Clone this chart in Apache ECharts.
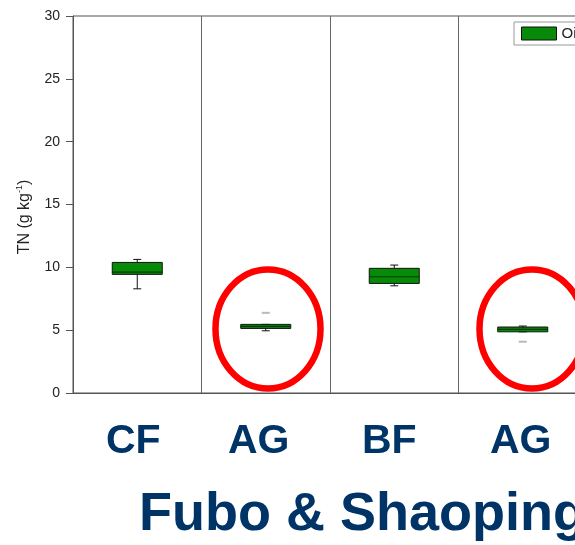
<!DOCTYPE html>
<html>
<head>
<meta charset="utf-8">
<script src="https://cdn.jsdelivr.net/npm/echarts@6/dist/echarts.min.js"></script>
<style>
  html, body { margin: 0; padding: 0; background: #fff; }
  #chart { width: 575px; height: 545px; }
</style>
</head>
<body>
<div id="chart"></div>
<script>
// Site / land-use groups along the x axis
const categories = ['CF', 'AG', 'BF', 'AG'];
// Box statistics per group: [min, Q1, median, Q3, max] of TN (g kg-1)
const tnBoxes = [
  [8.29, 9.44, 9.62, 10.39, 10.63],
  [4.95, 5.14, 5.30, 5.46, 5.46],
  [8.53, 8.72, 9.25, 9.92, 10.18],
  [4.87, 4.87, 5.06, 5.25, 5.33]
];
// Outlying observations: [group index, TN]
const tnOutliers = [[1, 6.38], [3, 4.08]];
// Y axis range and step
const yTicks = { min: 0, max: 30, step: 5 };

const seriesName = 'Oil tea';
const navy = '#003366';
const axisGray = '#555';
const fontFamily = 'Liberation Sans, Arial, sans-serif';
// small leftward nudges (px) of the big group labels under each panel
const labelNudge = [4, 7, 5, 2];

const chart = echarts.init(document.getElementById('chart'), null, { renderer: 'canvas' });

const boxData = tnBoxes.map((b, i) => [i].concat(b));

function renderBox(params, api) {
  const i = api.value(0);
  const lo = api.coord([i, api.value(1)]);
  const q1 = api.coord([i, api.value(2)]);
  const md = api.coord([i, api.value(3)]);
  const q3 = api.coord([i, api.value(4)]);
  const hi = api.coord([i, api.value(5)]);
  const cx = lo[0];
  const halfBox = 25;
  const halfCap = 4;
  const stroke = { stroke: '#111', lineWidth: 1 };
  return {
    type: 'group',
    children: [
      { type: 'line', shape: { x1: cx, y1: hi[1], x2: cx, y2: q3[1] }, style: stroke },
      { type: 'line', shape: { x1: cx - halfCap, y1: hi[1], x2: cx + halfCap, y2: hi[1] }, style: stroke },
      { type: 'line', shape: { x1: cx, y1: q1[1], x2: cx, y2: lo[1] }, style: stroke },
      { type: 'line', shape: { x1: cx - halfCap, y1: lo[1], x2: cx + halfCap, y2: lo[1] }, style: stroke },
      {
        type: 'rect',
        shape: { x: cx - halfBox, y: q3[1], width: halfBox * 2, height: q1[1] - q3[1] },
        style: { fill: '#078a07', stroke: '#111', lineWidth: 1 }
      },
      { type: 'line', shape: { x1: cx - halfBox, y1: md[1], x2: cx + halfBox, y2: md[1] }, style: { stroke: '#063a06', lineWidth: 1.2 } }
    ]
  };
}

const labelRich = {};
labelNudge.forEach((n, i) => {
  labelRich['g' + i] = {
    fontSize: 41,
    fontWeight: 'bold',
    color: navy,
    fontFamily: fontFamily,
    padding: [0, n * 2, 0, 0]
  };
});

const option = {
  backgroundColor: '#fff',
  animation: false,
  textStyle: { fontFamily: fontFamily },
  title: {
    text: 'Fubo & Shaoping',
    left: 139,
    top: 488,
    padding: 0,
    textStyle: { fontSize: 54, fontWeight: 'bold', color: navy, fontFamily: fontFamily }
  },
  legend: {
    data: [{ name: seriesName, icon: 'rect', itemStyle: { color: '#078a07', borderColor: '#111', borderWidth: 1 } }],
    left: 514,
    top: 22,
    padding: [4, 7],
    borderColor: '#999',
    borderWidth: 1,
    itemWidth: 35,
    itemHeight: 13,
    textStyle: { fontSize: 15, color: '#222' }
  },
  grid: {
    left: 73,
    top: 16,
    right: -12,
    bottom: 152,
    show: true,
    borderColor: axisGray,
    borderWidth: 1,
    containLabel: false,
    outerBoundsMode: 'none'
  },
  xAxis: {
    type: 'category',
    data: categories,
    boundaryGap: true,
    axisLine: { show: true, lineStyle: { color: axisGray, width: 1 } },
    axisTick: { show: false },
    splitLine: { show: true, lineStyle: { color: '#666', width: 1 } },
    axisLabel: {
      interval: 0,
      margin: 28,
      fontSize: 41,
      fontWeight: 'bold',
      color: navy,
      formatter: (value, index) => '{g' + index + '|' + value + '}',
      rich: labelRich
    }
  },
  yAxis: {
    type: 'value',
    min: yTicks.min,
    max: yTicks.max,
    interval: yTicks.step,
    axisLine: { show: true, lineStyle: { color: axisGray, width: 1 } },
    axisTick: { show: true, inside: false, length: 7, lineStyle: { color: axisGray } },
    splitLine: { show: false },
    axisLabel: { margin: 13, fontSize: 14, color: '#222' }
  },
  series: [
    {
      name: seriesName,
      type: 'custom',
      renderItem: renderBox,
      encode: { x: 0, y: [1, 2, 3, 4, 5] },
      data: boxData,
      z: 3
    },
    {
      name: 'outliers',
      type: 'scatter',
      data: tnOutliers,
      symbol: 'rect',
      symbolSize: [8, 2],
      itemStyle: { color: '#a8a8a8' },
      z: 3
    }
  ],
  graphic: [
    {
      type: 'text',
      x: 25,
      y: 217,
      rotation: Math.PI / 2,
      style: {
        text: 'TN (g kg{sup|-1})',
        fontSize: 16,
        fontFamily: fontFamily,
        fill: '#222',
        lineHeight: 19,
        align: 'center',
        verticalAlign: 'middle',
        rich: {
          sup: { fontSize: 9, lineHeight: 9, verticalAlign: 'top', fill: '#222' }
        }
      }
    },
    {
      type: 'ellipse',
      shape: { cx: 268, cy: 329, rx: 52.5, ry: 59.5 },
      style: { fill: 'none', stroke: '#ff0000', lineWidth: 6.5 },
      z: 10
    },
    {
      type: 'ellipse',
      shape: { cx: 532, cy: 329, rx: 52.5, ry: 59.5 },
      style: { fill: 'none', stroke: '#ff0000', lineWidth: 6.5 },
      z: 10
    }
  ]
};

chart.setOption(option);
</script>
</body>
</html>
